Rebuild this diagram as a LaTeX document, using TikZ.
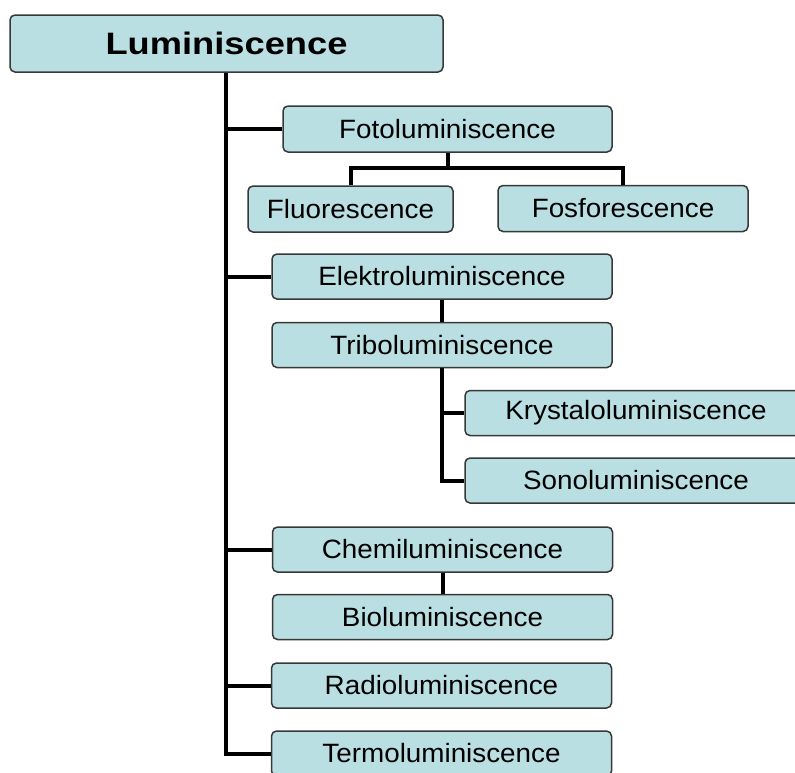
\documentclass[tikz,border=0pt]{standalone}
\usepackage{fontspec}
\setmainfont{Liberation Sans}[FakeStretch=1.05]
\newfontfamily\titlefont{Liberation Sans}[FakeStretch=1.17]
\definecolor{boxfill}{HTML}{B9DFE3}
\definecolor{boxline}{HTML}{383838}
\tikzset{
  lbox/.style={draw=boxline, fill=boxfill, line width=1.5pt, rounded corners=5pt,
    inner sep=0pt, minimum height=45pt, minimum width=340pt,
    font=\fontsize{26.5}{30}\selectfont},
  conn/.style={draw=black, line width=4pt}
}
\begin{document}
\begin{tikzpicture}[x=1pt,y=-1pt]
\useasboundingbox (0,0) rectangle (795,772);
\clip (0,0) rectangle (795,772);
\fill[white] (0,0) rectangle (795,772);
% nodes
\node[lbox, minimum width=433pt, minimum height=57pt, font=\titlefont\bfseries\fontsize{31}{36}\selectfont] (lum) at (226.5,43.5) {Luminiscence};
\node[lbox, minimum width=329pt, minimum height=46pt] (foto) at (447.5,129) {Fotoluminiscence};
\node[lbox, minimum width=205pt, minimum height=46pt] (fluo) at (350.5,209) {Fluorescence};
\node[lbox, minimum width=250pt, minimum height=46pt] (fosfo) at (623,208.5) {Fosforescence};
\node[lbox] (elektro) at (442,276.5) {Elektroluminiscence};
\node[lbox] (tribo) at (442,345) {Triboluminiscence};
\node[lbox, minimum width=342pt] (kryst) at (636,413) {Krystaloluminiscence};
\node[lbox, minimum width=342pt] (sono) at (636,480.5) {Sonoluminiscence};
\node[lbox] (chemi) at (442.5,549.5) {Chemiluminiscence};
\node[lbox] (bio) at (442.5,617) {Bioluminiscence};
\node[lbox] (radio) at (441.5,685.5) {Radioluminiscence};
\node[lbox] (termo) at (441.5,753.5) {Termoluminiscence};
% connectors
\coordinate (trunk) at (226,0);
\draw[conn] (trunk |- lum.south) -- (trunk |- termo.west) -- (termo.west);
\draw[conn] (trunk |- foto.west) -- (foto.west);
\draw[conn] (trunk |- elektro.west) -- (elektro.west);
\draw[conn] (trunk |- chemi.west) -- (chemi.west);
\draw[conn] (trunk |- radio.west) -- (radio.west);
\coordinate (fsplit) at (0,168);
\draw[conn] (foto.south) -- (foto.south |- fsplit);
\draw[conn] (fluo.north) -- (fluo.north |- fsplit) -- (fosfo.north |- fsplit) -- (fosfo.north);
\draw[conn] (elektro.south) -- (tribo.north);
\draw[conn] (chemi.south) -- (bio.north);
\draw[conn] (tribo.south) -- (tribo.south |- sono.west) -- (sono.west);
\draw[conn] (tribo.south |- kryst.west) -- (kryst.west);
\end{tikzpicture}
\end{document}
